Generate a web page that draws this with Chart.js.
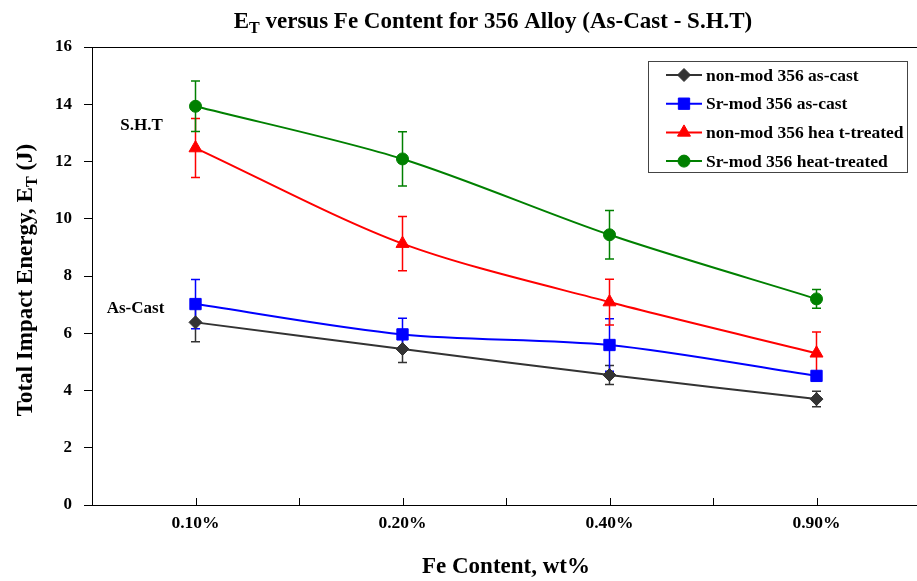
<!DOCTYPE html>
<html>
<head>
<meta charset="utf-8">
<title>Impact energy vs Fe content</title>
<script src="https://cdn.jsdelivr.net/npm/chart.js@4.4.1/dist/chart.umd.min.js"></script>
<style>
    html, body { margin: 0; padding: 0; background: #fff; overflow: hidden; }
    /* plot area runs slightly past the right edge of the window */
    #wrap { width: 929px; height: 581px; position: relative; }
    #wrap canvas { display: block; }
</style>
</head>
<body>
<div id="wrap"><canvas id="impact-chart"></canvas></div>
<script>
const FONT = "'Liberation Serif', 'Times New Roman', serif";

const feContent = ['0.10%', '0.20%', '0.40%', '0.90%'];

const seriesNames = [
    'non-mod 356 as-cast',
    'Sr-mod 356 as-cast',
    'non-mod 356 hea t-treated',
    'Sr-mod 356 heat-treated'
];

// mean total impact energy (J)
const nonModCast = [6.38, 5.45, 4.54, 3.70];
const srModCast = [7.02, 5.96, 5.59, 4.51];
const nonModHT = [12.47, 9.13, 7.09, 5.30];
const srModHT = [13.93, 12.09, 9.44, 7.20];

// +/- error (J)
const nonModCastErr = [0.68, 0.47, 0.33, 0.27];
const srModCastErr = [0.86, 0.56, 0.92, 0.15];
const nonModHTErr = [1.03, 0.95, 0.80, 0.74];
const srModHTErr = [0.88, 0.95, 0.85, 0.33];

const yTicks = [0, 2, 4, 6, 8, 10, 12, 14, 16];

const seriesColors = ['#333333', '#0000ff', '#ff0000', '#008000'];
const seriesMarkers = [
    { pointStyle: 'rectRot', radius: 6.5 },
    { pointStyle: 'rect', radius: 8 },
    { pointStyle: 'triangle', radius: 7.5 },
    { pointStyle: 'circle', radius: 6 }
];
const seriesValues = [nonModCast, srModCast, nonModHT, srModHT];
const seriesErrors = [nonModCastErr, srModCastErr, nonModHTErr, srModHTErr];

// text with a subscript part: parts = [[text, isSub], ...]
function drawRichText(ctx, parts, x, y, size, rotate) {
    const subSize = Math.round(size * 0.7);
    ctx.save();
    ctx.translate(x, y);
    if (rotate) ctx.rotate(-Math.PI / 2);
    ctx.fillStyle = '#000';
    ctx.textBaseline = 'alphabetic';
    let total = 0;
    const widths = parts.map(([t, sub]) => {
        ctx.font = `bold ${sub ? subSize : size}px ${FONT}`;
        const w = ctx.measureText(t).width;
        total += w;
        return w;
    });
    let cx = -total / 2;
    const base = size * 0.35;
    parts.forEach(([t, sub], i) => {
        ctx.font = `bold ${sub ? subSize : size}px ${FONT}`;
        ctx.textAlign = 'left';
        ctx.fillText(t, cx, sub ? base + size * 0.2 : base);
        cx += widths[i];
    });
    ctx.restore();
}

const errorBars = {
    id: 'errorBars',
    beforeDatasetsDraw(chart) {
        const { ctx, scales: { x, y } } = chart;
        ctx.save();
        ctx.lineWidth = 1.5;
        seriesValues.forEach((vals, i) => {
            ctx.strokeStyle = seriesColors[i];
            vals.forEach((v, j) => {
                const e = seriesErrors[i][j];
                const px = x.getPixelForValue(j);
                const top = y.getPixelForValue(v + e);
                const bot = y.getPixelForValue(v - e);
                ctx.beginPath();
                ctx.moveTo(px, top);
                ctx.lineTo(px, bot);
                ctx.moveTo(px - 4.5, top);
                ctx.lineTo(px + 4.5, top);
                ctx.moveTo(px - 4.5, bot);
                ctx.lineTo(px + 4.5, bot);
                ctx.stroke();
            });
        });
        ctx.restore();
    }
};

const frameAndText = {
    id: 'frameAndText',
    beforeDatasetsDraw(chart) {
        const { ctx, chartArea: a, scales: { x } } = chart;
        ctx.save();
        ctx.strokeStyle = '#000';
        ctx.lineWidth = 1;
        ctx.strokeRect(a.left + 0.5, a.top + 0.5, a.right - a.left, a.bottom - a.top);
        // inward tick marks at categories and between them
        const step = x.getPixelForValue(1) - x.getPixelForValue(0);
        ctx.beginPath();
        for (let i = 0; i < feContent.length; i++) {
            const px = Math.round(x.getPixelForValue(i)) + 0.5;
            ctx.moveTo(px, a.bottom);
            ctx.lineTo(px, a.bottom - 7);
            const pb = Math.round(x.getPixelForValue(i) + step / 2) + 0.5;
            ctx.moveTo(pb, a.bottom);
            ctx.lineTo(pb, a.bottom - 7);
        }
        ctx.stroke();
        ctx.restore();
    },
    afterDraw(chart) {
        const { ctx, chartArea: a, scales: { x, y } } = chart;

        drawRichText(ctx, [['E', false], ['T', true], [' versus Fe Content for 356 Alloy (As-Cast - S.H.T)', false]],
            493, 20, 23, false);
        drawRichText(ctx, [['Total Impact Energy, E', false], ['T', true], [' (J)', false]],
            24, 280, 23, true);

        // group annotations
        ctx.save();
        ctx.fillStyle = '#000';
        ctx.font = `bold 17px ${FONT}`;
        ctx.textAlign = 'center';
        ctx.textBaseline = 'middle';
        const x0 = x.getPixelForValue(0);
        ctx.fillText('S.H.T', x0 - 54, y.getPixelForValue(13.25));
        ctx.fillText('As-Cast', x0 - 60, y.getPixelForValue(6.85));

        // legend box
        const lx = a.right - 272, ly = a.top + 14, lw = 259, lh = 111;
        ctx.fillStyle = '#fff';
        ctx.fillRect(lx, ly, lw, lh);
        ctx.strokeStyle = '#444';
        ctx.lineWidth = 1;
        ctx.strokeRect(lx + 0.5, ly + 0.5, lw, lh);
        seriesNames.forEach((name, i) => {
            const cy = ly + 14 + i * 28.7;
            ctx.strokeStyle = seriesColors[i];
            ctx.fillStyle = seriesColors[i];
            ctx.lineWidth = 2;
            ctx.beginPath();
            ctx.moveTo(lx + 18, cy);
            ctx.lineTo(lx + 54, cy);
            ctx.stroke();
            ctx.lineWidth = 1;
            Chart.helpers.drawPoint(ctx, {
                pointStyle: seriesMarkers[i].pointStyle,
                radius: seriesMarkers[i].radius,
                rotation: 0,
                borderWidth: 1
            }, lx + 36, cy);
            ctx.fillStyle = '#000';
            ctx.textAlign = 'left';
            ctx.font = `bold 17.5px ${FONT}`;
            ctx.fillText(name, lx + 58, cy + 1);
        });
        ctx.restore();
    }
};

function buildDatasets() {
    return seriesNames.map((name, i) => ({
        label: name,
        data: seriesValues[i],
        borderColor: seriesColors[i],
        backgroundColor: seriesColors[i],
        borderWidth: 2,
        tension: 0.3,
        pointStyle: seriesMarkers[i].pointStyle,
        pointRadius: seriesMarkers[i].radius,
        pointHoverRadius: seriesMarkers[i].radius,
        pointBorderWidth: 1,
        pointBackgroundColor: seriesColors[i],
        pointBorderColor: seriesColors[i]
    }));
}

const ctx = document.getElementById('impact-chart').getContext('2d');
new Chart(ctx, {
    type: 'line',
    data: {
        labels: feContent,
        datasets: buildDatasets()
    },
    options: {
        responsive: true,
        maintainAspectRatio: false,
        animation: false,
        events: [],
        layout: { padding: { top: 47, right: 0, bottom: 0, left: 0 } },
        plugins: {
            legend: { display: false },
            title: { display: false },
            tooltip: { enabled: false }
        },
        scales: {
            x: {
                type: 'category',
                offset: true,
                grid: { display: false, drawTicks: false },
                border: { display: false },
                ticks: {
                    color: '#000',
                    padding: 8,
                    font: { family: FONT, size: 17.5, weight: 'bold' }
                },
                title: {
                    display: true,
                    text: 'Fe Content, wt%',
                    color: '#000',
                    padding: { top: 0, bottom: 0 },
                    font: { family: FONT, size: 23, weight: 'bold' }
                },
                afterFit(scale) { scale.height = 76; }
            },
            y: {
                min: 0,
                max: 16,
                afterBuildTicks(scale) {
                    scale.ticks = yTicks.map(v => ({ value: v }));
                },
                grid: {
                    drawOnChartArea: false,
                    drawTicks: true,
                    tickLength: 8,
                    color: '#000'
                },
                border: { display: false },
                ticks: {
                    color: '#000',
                    padding: 12,
                    font: { family: FONT, size: 17, weight: 'bold' }
                },
                afterFit(scale) { scale.width = 92; }
            }
        }
    },
    plugins: [frameAndText, errorBars]
});
</script>
</body>
</html>
